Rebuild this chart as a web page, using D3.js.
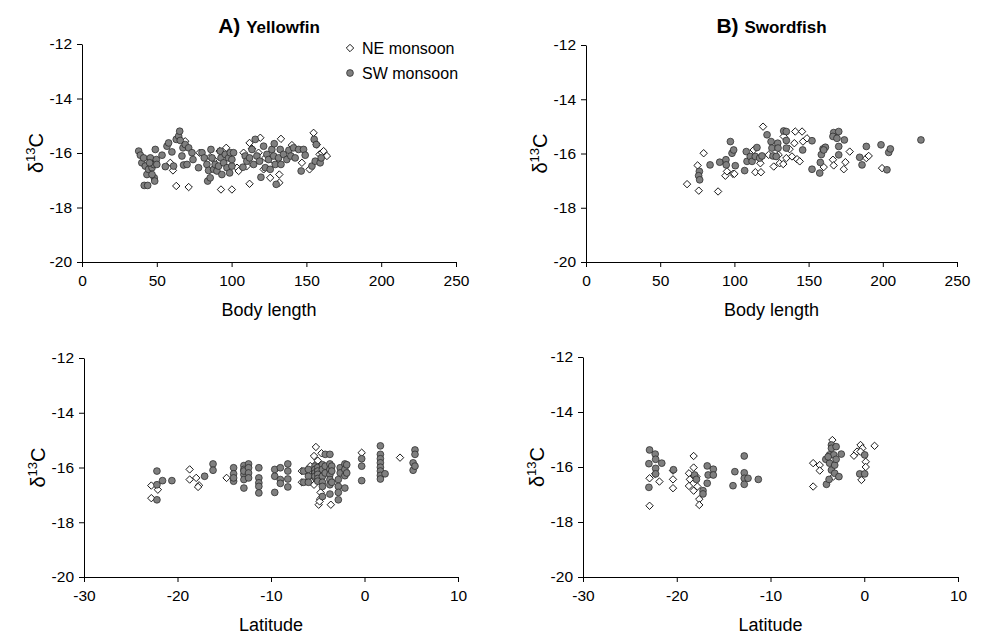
<!DOCTYPE html>
<html>
<head>
<meta charset="utf-8">
<script src="https://cdn.jsdelivr.net/npm/d3@7"></script>
<style>
  body { margin: 0; background: #fff; }
  text { font-family: "Liberation Sans", Arial, sans-serif; fill: #000; }
</style>
</head>
<body>
<div id="chart"></div>
<script>
// data: [x, d13C] pairs
const yfLengthNE = [[59,-16.36],[60.8,-16.64],[63,-17.21],[71.3,-17.25],[69,-15.57],[88,-16.24],[92.9,-17.34],
  [100.2,-17.34],[96.4,-15.81],[92,-15.93],[103.6,-16.54],[104.7,-16.66],[110.2,-16.48],[112,-17.13],[112,-15.63],
  [113.6,-15.84],[119.2,-15.44],[118,-15.99],[121.4,-16.6],[125.8,-16.91],[128.1,-16.3],[131.9,-16.79],[131.9,-17.09],
  [133,-15.48],[140.3,-15.71],[147,-16.36],[152.1,-16.6],[154.8,-15.26],[157,-15.69],[158.8,-16.05],[160.4,-15.99],
  [161.5,-15.93],[163.7,-16.11],[85.7,-16.15],[78.6,-15.99],[108,-15.99],[122.5,-16.18]];
const yfLengthSW = [[37.9,-15.93],[39,-16.08],[40,-16.36],[41.2,-16.18],[41.6,-17.19],[43.9,-17.19],[42.3,-16.48],
  [43.4,-16.79],[44.5,-16.6],[45.7,-16.18],[46.8,-16.54],[47.9,-16.42],[48.3,-16.91],[48.6,-17.03],[49,-15.87],
  [49.7,-16.24],[50,-16.42],[46.8,-16.79],[45.2,-16.36],[53.5,-16.08],[55.7,-16.5],[56.8,-15.75],[57.9,-15.63],
  [60.1,-15.96],[61.2,-16.48],[63,-15.5],[64.6,-15.38],[65.3,-15.2],[65.7,-15.54],[66.8,-16.11],[67.5,-15.81],
  [67.9,-16.44],[69,-15.69],[70.2,-16.42],[71.3,-15.81],[73.5,-15.99],[74.2,-16.24],[77.9,-16.54],[80.2,-15.99],
  [81.7,-16.18],[83.5,-16.42],[84.6,-16.64],[84,-17.03],[85.7,-16.91],[86.2,-15.87],[86.9,-16.18],[88,-16.6],
  [89,-16.42],[90.2,-16.66],[91.3,-16.48],[92.4,-15.93],[92.9,-16.18],[93.5,-16.79],[94.7,-16.36],[95.8,-16.05],
  [96.9,-16.54],[98,-16.18],[98.7,-16.73],[99.1,-15.99],[100.2,-16.48],[101.3,-15.99],[100.2,-16.24],[107.6,-16.52],
  [109.1,-16.11],[110.2,-16.3],[112,-16.18],[113.6,-15.87],[114.7,-16.42],[115.8,-15.5],[116.9,-16.11],[118.7,-16.3],
  [119.6,-16.89],[121.4,-15.75],[122.5,-16.54],[123.6,-16.05],[124.7,-16.24],[125.8,-16.6],[126.9,-15.87],
  [128.1,-16.11],[128.5,-15.66],[129.2,-16.42],[129.8,-17.15],[131.4,-16.18],[132.5,-15.87],[133,-16.42],
  [134.7,-16.05],[136.9,-16.24],[138.3,-15.9],[139.6,-16.11],[141.4,-15.81],[142.5,-16.18],[144.8,-15.87],
  [146.5,-16.66],[148.1,-15.87],[149.2,-16.08],[153.7,-16.48],[155.2,-15.5],[156.6,-15.69],[155.9,-16.3],
  [159.2,-16.36],[159.9,-16.18]];

const swLengthNE = [[68.1,-17.13],[75.2,-16.44],[76,-17.37],[79.3,-15.99],[89,-17.4],[93.9,-16.82],[95,-16.66],
  [99.1,-16.75],[100,-16.75],[113,-15.87],[114.1,-16.69],[117.9,-16.69],[117.5,-16.36],[119.3,-15.01],[123.1,-16.05],
  [126.5,-16.48],[129.8,-16.05],[130.5,-16.36],[132.9,-16.39],[133.2,-15.37],[135,-16.17],[137.2,-15.84],
  [138.8,-16.11],[141,-15.19],[140.4,-15.62],[142.2,-16.21],[144,-16.29],[145.6,-15.19],[146.2,-15.56],
  [148.9,-15.44],[160.2,-16.5],[166.4,-16.23],[166.9,-16.44],[173.7,-16.58],[174.8,-16.32],[177.7,-15.93],
  [188.9,-16.17],[190.5,-16.09],[199.5,-16.54]];
const swLengthSW = [[76.4,-16.66],[75.9,-16.82],[76.6,-16.97],[83.6,-16.42],[90.1,-16.32],[94.3,-16.23],[94.5,-16.42],
  [97.3,-15.56],[98.4,-15.99],[99.5,-15.87],[100.6,-16.45],[106.9,-16.63],[108,-15.93],[108.5,-16.29],[110.7,-16.11],
  [111.9,-16.29],[114.1,-16.11],[115.2,-15.78],[117,-16.17],[118.6,-16.09],[122,-15.31],[124.7,-15.56],[125.3,-15.8],
  [126,-16.09],[128.2,-16.11],[129.2,-15.62],[129.4,-15.8],[133.2,-15.17],[135,-15.19],[135,-15.52],[135,-15.8],
  [146,-15.87],[152.3,-16.58],[152.3,-15.53],[157.5,-16.72],[157.9,-16.33],[158.6,-16.04],[159.7,-15.83],
  [161.3,-15.77],[166.9,-15.23],[166.4,-15.37],[169.1,-15.44],[170.3,-15.19],[170.3,-15.74],[170.3,-16.05],
  [174.1,-15.5],[184.4,-16.14],[186,-16.42],[188.9,-15.74],[198.8,-15.68],[202.8,-16.6],[204,-15.96],[205.1,-15.83],
  [225.7,-15.5],[160.2,-15.87]];

const yfLatNE = [[-22.8,-16.66],[-22.8,-17.12],[-22.1,-16.81],[-18.7,-16.07],[-18.7,-16.44],[-18,-16.38],
  [-17.7,-16.65],[-17.8,-16.71],[-14.75,-16.38],[-6.7,-16.13],[-6.7,-16.54],[-5.8,-15.95],[-5.2,-15.25],
  [-5.4,-15.58],[-5.4,-16.63],[-4.7,-16.91],[-4.6,-15.48],[-4.75,-17.15],[-4.9,-17.36],[-4.8,-17.24],[-3.6,-17.36],
  [-0.3,-15.46],[3.8,-15.64],[-5.6,-16.26],[-6.0,-16.2],[-5.8,-16.5],[-5.1,-15.85],[-5.0,-16.0],[-5.2,-16.15],
  [-4.9,-16.3],[-5.1,-16.4],[-5.3,-16.1],[-5.0,-15.75]];
const yfLatSW = [[-22.2,-16.13],[-22.2,-16.63],[-22.2,-17.18],[-21.6,-16.48],[-20.6,-16.48],[-17.1,-16.32],
  [-16.2,-15.87],[-16.2,-16.1],[-14,-16.01],[-14,-16.23],[-14,-16.5],[-14,-16.38],
  [-12.9,-15.93],[-12.9,-16.07],[-12.9,-16.26],[-12.9,-16.44],[-12.9,-16.75],[-12.9,-16.13],
  [-12.4,-15.87],[-12.4,-16.01],[-12.4,-16.2],[-12.4,-16.38],
  [-11.3,-16.01],[-11.3,-16.38],[-11.3,-16.56],[-11.3,-16.69],[-11.3,-16.93],
  [-9.6,-16.07],[-9.6,-16.32],[-9.6,-16.91],[-9,-16.01],[-9,-16.44],[-9,-16.58],
  [-8.2,-15.87],[-8.2,-16.13],[-8.2,-16.42],[-8.2,-16.71],[-6.5,-16.13],[-6.5,-16.54],
  [-6,-16.07],[-6,-16.32],[-6,-16.54],[-5.3,-15.95],[-5.3,-16.07],[-5.3,-16.2],[-5.3,-16.32],
  [-5,-16.0],[-5,-16.13],[-5,-16.25],[-5,-16.4],[-5,-16.5],
  [-4.5,-15.9],[-4.5,-16.07],[-4.5,-16.32],[-4.5,-16.54],[-4.5,-16.69],[-4.5,-17.06],
  [-4.2,-15.52],[-4.2,-15.95],[-4.2,-16.2],
  [-3.7,-15.52],[-3.7,-15.87],[-3.7,-16.07],[-3.7,-16.26],[-3.7,-16.44],[-3.7,-16.63],[-3.7,-16.97],
  [-3.5,-15.95],[-3.5,-16.13],[-3.5,-16.54],[-2.8,-16.44],[-2.8,-16.69],[-2.8,-16.91],[-2.8,-17.18],
  [-2.6,-16.01],[-2.6,-16.2],[-2.1,-15.87],[-2.1,-16.07],[-2.1,-16.3],[-2.1,-16.75],[-1.9,-15.9],[-1.9,-16.2],
  [-0.3,-15.68],[-0.3,-15.95],[-0.3,-16.48],
  [1.7,-15.21],[1.7,-15.52],[1.7,-15.68],[1.7,-15.83],[1.7,-15.99],[1.7,-16.13],[1.7,-16.29],[1.7,-16.42],
  [2.2,-16.23],[5.2,-15.83],[5.2,-16.1],[5.4,-15.36],[5.4,-15.52],[5.4,-15.95]];

const swLatNE = [[-22.9,-17.41],[-22.9,-16.41],[-22.3,-16.25],[-21.85,-16.53],[-20.4,-16.45],[-20.4,-16.77],
  [-20.4,-16.13],[-18.2,-15.6],[-18.7,-16.23],[-18.6,-16.45],[-18.7,-16.69],[-18.2,-16.02],[-18.2,-16.86],
  [-17.8,-16.71],[-17.6,-17.17],[-17.6,-17.38],[-17.9,-16.35],[-5.45,-15.86],[-5.45,-16.71],[-4.75,-15.93],
  [-4.75,-16.13],[-3.4,-15.02],[-3.3,-16.35],[-1.1,-15.59],[-0.77,-15.44],[-0.4,-15.2],[-0.2,-15.32],
  [0.16,-15.81],[0.16,-16.0],[-0.3,-16.47],[1.1,-15.23],[-0.4,-15.44]];
const swLatSW = [[-22.9,-15.38],[-22.97,-15.88],[-22.97,-16.74],[-22.3,-15.53],[-22.25,-15.72],[-22.25,-16.05],
  [-22.25,-16.25],[-21.6,-15.86],[-20.35,-16.1],[-18.1,-16.29],[-17.9,-16.45],[-17.2,-16.86],[-17.2,-16.98],
  [-16.75,-15.96],[-16.65,-16.29],[-16.75,-16.59],[-16.1,-16.08],[-16.1,-16.29],[-14,-16.68],[-13.8,-16.17],
  [-12.8,-15.6],[-12.8,-16.21],[-12.8,-16.41],[-12.8,-16.63],[-12.4,-16.41],[-11.3,-16.45],
  [-4.03,-16.63],[-3.75,-16.45],[-4.1,-15.72],[-3.7,-15.86],[-3.7,-15.56],[-3.5,-15.2],[-3.5,-15.32],[-3.5,-16.11],
  [-3.25,-15.56],[-3.15,-15.93],[-3.15,-16.23],[-3.0,-15.72],[-3.0,-15.26],[-2.7,-16.35],[-2.45,-15.53],
  [-0.48,-16.25],[0.05,-16.25],[0.05,-15.56],[-3.85,-15.63]];

const yTicks = [-12, -14, -16, -18, -20];
const lengthTicks = [0, 50, 100, 150, 200, 250];
const latTicks = [-30, -20, -10, 0, 10];
const seriesNames = ["NE monsoon", "SW monsoon"];

const W = 986, H = 636;
const svg = d3.select("#chart").append("svg")
  .attr("width", W).attr("height", H);

const panels = [
  {x0: 82, x1: 456, y0: 44, y1: 262, dom: [0, 250], ticks: lengthTicks, xlab: "Body length", ne: yfLengthNE, sw: yfLengthSW,
   title: ["A)", "Yellowfin"], legend: true},
  {x0: 586, x1: 957, y0: 45, y1: 262, dom: [0, 250], ticks: lengthTicks, xlab: "Body length", ne: swLengthNE, sw: swLengthSW,
   title: ["B)", "Swordfish"]},
  {x0: 84, x1: 458, y0: 358, y1: 577, dom: [-30, 10], ticks: latTicks, xlab: "Latitude", ne: yfLatNE, sw: yfLatSW},
  {x0: 583, x1: 958, y0: 357, y1: 577, dom: [-30, 10], ticks: latTicks, xlab: "Latitude", ne: swLatNE, sw: swLatSW}
];

function diamondPath(s) {
  // small open diamond, s = half diagonal
  return `M0,${-s}L${s},0L0,${s}L${-s},0Z`;
}

panels.forEach(p => {
  const x = d3.scaleLinear().domain(p.dom).range([p.x0, p.x1]);
  const y = d3.scaleLinear().domain([-20, -12]).range([p.y1, p.y0]);
  const g = svg.append("g");

  // axes
  const ax = g.append("g").attr("transform", `translate(0,${p.y1})`)
    .call(d3.axisBottom(x).tickValues(p.ticks).tickSize(5).tickSizeOuter(0).tickPadding(8));
  const ay = g.append("g").attr("transform", `translate(${p.x0},0)`)
    .call(d3.axisLeft(y).tickValues(yTicks).tickSize(5).tickSizeOuter(0).tickPadding(5));
  [ax, ay].forEach(a => {
    a.selectAll("path, line").attr("stroke", "#000").attr("stroke-width", 1);
    a.selectAll("text").style("font-size", "15.5px").style("font-family", "Liberation Sans, Arial, sans-serif");
  });
  ay.selectAll("text").text(d => String(d));
  ax.selectAll("text").text(d => String(d));

  // x label
  g.append("text").attr("x", (p.x0 + p.x1) / 2).attr("y", p.y1 + 54)
    .attr("text-anchor", "middle").style("font-size", "18px").text(p.xlab);

  // y label delta 13 C
  const yl = g.append("text")
    .attr("transform", `translate(${p.x0 - 39},${(p.y0 + p.y1) / 2}) rotate(-90)`)
    .attr("text-anchor", "middle").style("font-size", "20px");
  yl.append("tspan").text("δ");
  yl.append("tspan").attr("dy", -8).style("font-size", "13px").text("13");
  yl.append("tspan").attr("dy", 8).text("C");

  // NE first, SW drawn on top
  g.append("g").selectAll("path").data(p.ne).join("path")
    .attr("transform", d => `translate(${x(d[0])},${y(d[1])})`)
    .attr("d", diamondPath(3.7))
    .attr("fill", "#fff").attr("stroke", "#000").attr("stroke-width", 0.9);
  g.append("g").selectAll("circle").data(p.sw).join("circle")
    .attr("cx", d => x(d[0])).attr("cy", d => y(d[1])).attr("r", 3.4)
    .attr("fill", "#7f7f7f").attr("stroke", "#222").attr("stroke-width", 0.7);

  if (p.title) {
    const t = svg.append("text").attr("x", (p.x0 + p.x1) / 2).attr("y", 33)
      .attr("text-anchor", "middle").style("font-weight", "bold");
    t.append("tspan").style("font-size", "21px").text(p.title[0] + " ");
    t.append("tspan").style("font-size", "17px").text(p.title[1]);
  }

  if (p.legend) {
    const lg = svg.append("g").attr("transform", "translate(350,48)");
    lg.append("path").attr("d", diamondPath(3.7))
      .attr("fill", "#fff").attr("stroke", "#000").attr("stroke-width", 0.9);
    lg.append("circle").attr("cy", 25).attr("r", 3.4)
      .attr("fill", "#7f7f7f").attr("stroke", "#222").attr("stroke-width", 0.7);
    lg.selectAll("text.leg").data(seriesNames).join("text").attr("class", "leg")
      .attr("x", 12).attr("y", (d, i) => i * 25 + 5.5).style("font-size", "16px").text(d => d);
  }
});
</script>
</body>
</html>
